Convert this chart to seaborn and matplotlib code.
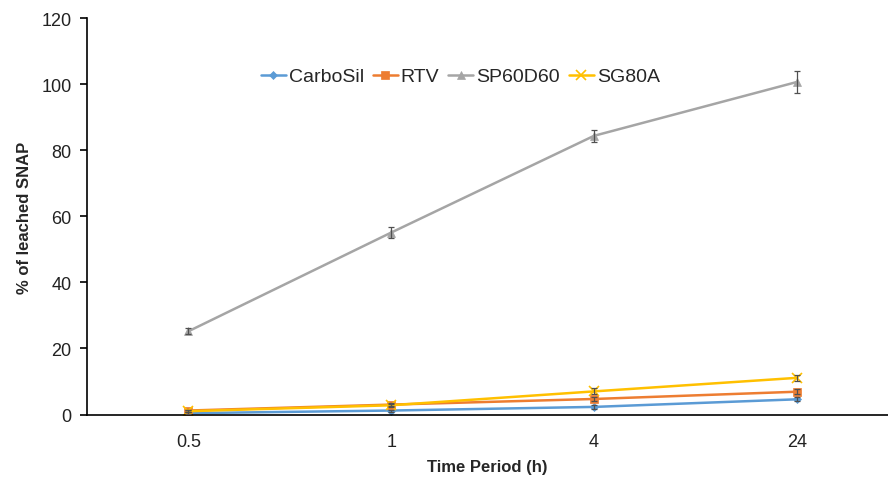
import matplotlib
matplotlib.use("Agg")
import matplotlib.pyplot as plt
import seaborn as sns
import numpy as np
import pandas as pd

categories = ["0.5", "1", "4", "24"]
series_names = ["CarboSil", "RTV", "SP60D60", "SG80A"]
carbosil = [0.4, 1.2, 2.3, 4.6]
rtv = [1.2, 3.0, 4.7, 6.9]
sp60d60 = [25.2, 55.1, 84.4, 100.7]
sg80a = [1.0, 2.8, 7.0, 11.1]
carbosil_err = [0.3, 0.3, 0.5, 0.6]
rtv_err = [0.3, 0.4, 0.6, 0.8]
sp60d60_err = [0.9, 1.6, 1.8, 3.2]
sg80a_err = [0.3, 0.4, 0.9, 1.0]

colors = ["#5B9BD5", "#ED7D31", "#A5A5A5", "#FFC000"]
markers = ["D", "s", "^", "x"]
msizes = [4, 6, 6, 7]

sns.set_theme(style="white")
plt.rcParams["font.family"] = ["Liberation Sans", "DejaVu Sans"]

fig = plt.figure(figsize=(8.88, 4.85), dpi=100)
ax = fig.add_axes([87 / 888, 69.5 / 485, 801 / 888, 396.2 / 485])

values = [carbosil, rtv, sp60d60, sg80a]
errs = [carbosil_err, rtv_err, sp60d60_err, sg80a_err]
xidx = np.arange(len(categories))

for name, vals, err, c, m, ms in zip(series_names, values, errs, colors, markers, msizes):
    ax.errorbar(xidx, vals, yerr=err, fmt="none", ecolor="#505050", elinewidth=0.9,
                capsize=2.5, capthick=0.9, zorder=3)
    sns.lineplot(x=xidx, y=vals, ax=ax, color=c, marker=m, markersize=ms,
                 markeredgecolor=c, markeredgewidth=1.2 if m == "x" else 0.5,
                 linewidth=1.8, label=name, zorder=2)

ax.set_xlim(-0.5, 3.45)
ax.set_ylim(0, 120)
ax.set_yticks(np.arange(0, 121, 20))
ax.set_xticks(xidx)
ax.set_xticklabels(categories)

for s in ["top", "right"]:
    ax.spines[s].set_visible(False)
ax.spines["left"].set_color("black")
ax.spines["bottom"].set_color("black")
ax.spines["left"].set_linewidth(1.2)
ax.spines["bottom"].set_linewidth(1.2)

ax.tick_params(axis="y", which="both", left=True, length=5, width=1.2, color="black",
               labelsize=13, pad=6, labelcolor="#222222")
ax.tick_params(axis="x", bottom=False, labelsize=13, pad=7, labelcolor="#222222")

ax.set_xlabel("Time Period (h)", fontsize=12, fontweight="bold", labelpad=7)
ax.set_ylabel("% of leached SNAP", fontsize=12, fontweight="bold", labelpad=7)

leg = ax.legend(loc="center", bbox_to_anchor=(0.466, 0.853), ncol=4, frameon=False,
                fontsize=14, handlelength=1.3, handletextpad=0.15, columnspacing=0.45)

fig.savefig("out.png", dpi=100)
